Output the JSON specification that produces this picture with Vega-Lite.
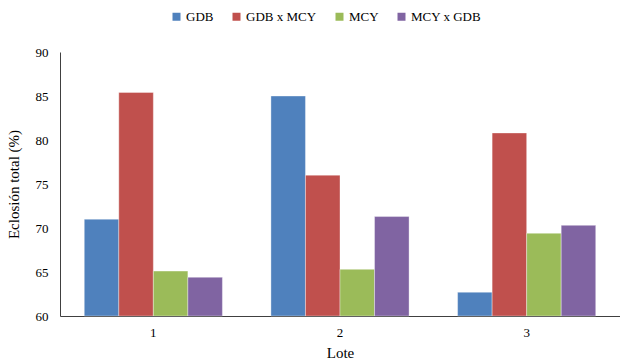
{
  "$schema": "https://vega.github.io/schema/vega-lite/v6.json",
  "width": 560,
  "height": 264,
  "autosize": {"type": "none"},
  "padding": {"left": 60, "top": 52, "right": 0, "bottom": 44},
  "background": "white",
  "config": {
    "font": "'Liberation Serif', 'Times New Roman', serif",
    "view": {"stroke": null},
    "axis": {"labelFont": "'Liberation Serif', 'Times New Roman', serif", "titleFont": "'Liberation Serif', 'Times New Roman', serif", "labelColor": "#000", "titleColor": "#000", "titleFontWeight": "normal"}
  },
  "data": {
    "values": [
      {"lote": "1", "grupo": "GDB", "eclosion": 71.0},
      {"lote": "1", "grupo": "GDB x MCY", "eclosion": 85.4},
      {"lote": "1", "grupo": "MCY", "eclosion": 65.1},
      {"lote": "1", "grupo": "MCY x GDB", "eclosion": 64.4},
      {"lote": "2", "grupo": "GDB", "eclosion": 85.0},
      {"lote": "2", "grupo": "GDB x MCY", "eclosion": 76.0},
      {"lote": "2", "grupo": "MCY", "eclosion": 65.3},
      {"lote": "2", "grupo": "MCY x GDB", "eclosion": 71.3},
      {"lote": "3", "grupo": "GDB", "eclosion": 62.7},
      {"lote": "3", "grupo": "GDB x MCY", "eclosion": 80.8},
      {"lote": "3", "grupo": "MCY", "eclosion": 69.4},
      {"lote": "3", "grupo": "MCY x GDB", "eclosion": 70.3}
    ]
  },
  "mark": {"type": "bar", "stroke": "#ffffff", "strokeWidth": 0.6, "strokeOpacity": 0.6},
  "encoding": {
    "x": {
      "field": "lote",
      "type": "nominal",
      "scale": {"paddingInner": 0.26, "paddingOuter": 0.13},
      "axis": {
        "title": "Lote",
        "titleFontSize": 15,
        "titlePadding": 6,
        "labelFontSize": 13,
        "labelAngle": 0,
        "labelPadding": 10,
        "ticks": false,
        "domainColor": "#404040",
        "domainWidth": 1.2
      }
    },
    "xOffset": {"field": "grupo", "type": "nominal", "scale": {"paddingInner": 0, "paddingOuter": 0}},
    "y": {
      "field": "eclosion",
      "type": "quantitative",
      "scale": {"domain": [60, 90], "zero": false, "nice": false},
      "axis": {
        "title": "Eclosión total (%)",
        "titleFontSize": 15,
        "titlePadding": 14,
        "labelFontSize": 13,
        "labelPadding": 12,
        "labelOverlap": false,
        "values": [60, 65, 70, 75, 80, 85, 90],
        "ticks": false,
        "grid": false,
        "domainColor": "#404040",
        "domainWidth": 1
      }
    },
    "y2": {"datum": 60},
    "color": {
      "field": "grupo",
      "type": "nominal",
      "scale": {
        "domain": ["GDB", "GDB x MCY", "MCY", "MCY x GDB"],
        "range": ["#4F81BD", "#C0504D", "#9BBB59", "#8064A2"]
      },
      "legend": {
        "title": null,
        "orient": "none",
        "direction": "horizontal",
        "columns": 4,
        "legendX": 110,
        "legendY": -42,
        "symbolType": "square",
        "symbolSize": 64,
        "symbolStrokeWidth": 0,
        "labelFont": "'Liberation Serif', 'Times New Roman', serif",
        "labelFontSize": 13,
        "labelColor": "#000",
        "labelOffset": 3,
        "columnPadding": 16
      }
    }
  }
}
